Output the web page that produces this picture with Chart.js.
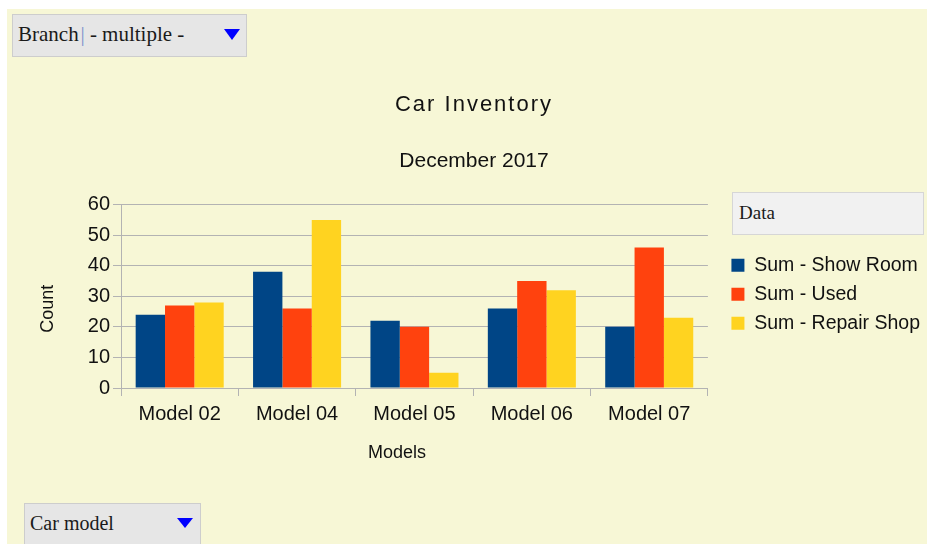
<!DOCTYPE html>
<html><head><meta charset="utf-8">
<script src="https://cdn.jsdelivr.net/npm/chart.js@4"></script>
<style>
html,body{margin:0;padding:0;background:#fff;width:927px;height:544px;overflow:hidden;}
#bg{position:absolute;left:7px;top:9px;right:0;bottom:0;background:#f7f7d6;}
#wrap{position:absolute;left:20px;top:0;width:907px;height:544px;}
.dd{position:absolute;background:#e6e6e6;border:1px solid #cdcdcd;font-family:"Liberation Serif",serif;font-size:20px;color:#1a1a1a;box-sizing:border-box;white-space:nowrap;}
.tri{position:absolute;width:0;height:0;border-left:8px solid transparent;border-right:8px solid transparent;border-top:11px solid #0000ff;}
</style></head>
<body>
<div id="bg"></div>
<div id="wrap"><canvas id="c"></canvas></div>
<div class="dd" style="left:12px;top:14px;width:235px;height:43px;font-size:21px;"><span style="position:absolute;left:5px;top:7px;">Branch&#8202;<span style="color:#7b92cc">|</span> - multiple -</span><div class="tri" style="left:211px;top:14px;"></div></div>
<div class="dd" style="left:732px;top:192px;width:192px;height:43px;background:#f1f1f1;border-color:#d6d6d6;font-size:19px;"><span style="position:absolute;left:6px;top:9px;">Data</span></div>
<div class="dd" style="left:24px;top:503px;width:177px;height:50px;"><span style="position:absolute;left:5px;top:8px;">Car model</span><div class="tri" style="left:152px;top:14px;border-top-width:10px;"></div></div>
<script>
const categories = ['Model 02', 'Model 04', 'Model 05', 'Model 06', 'Model 07'];
const seriesNames = ['Sum - Show Room', 'Sum - Used', 'Sum - Repair Shop'];
const showRoom = [24, 38, 22, 26, 20];
const used = [27, 26, 20, 35, 46];
const repairShop = [28, 55, 5, 32, 23];
const yTicks = [0, 10, 20, 30, 40, 50, 60];
const colors = ['#004586', '#ff420e', '#ffd320'];

Chart.defaults.font.family = '"Liberation Sans", Arial, sans-serif';
Chart.defaults.color = '#1a1a1a';

const gridColor = '#b3b3b3';
const legendFitExtra = 2;
const legendShiftX = 14;
const boxTweaks = {
  id: 'boxTweaks',
  afterInit(chart) {
    const tb = chart.titleBlock;
    if (tb) {
      const origDraw = tb.draw.bind(tb);
      tb.draw = function () {
        const ctx = chart.ctx;
        ctx.save();
        ctx.letterSpacing = '2px';
        origDraw();
        ctx.restore();
      };
    }
    const lg = chart.legend;
    if (lg) {
      const origFit = lg.fit.bind(lg);
      lg.fit = function () { origFit(); this.width += legendFitExtra; };
      const origLDraw = lg.draw.bind(lg);
      lg.draw = function () {
        const ctx = chart.ctx;
        ctx.save();
        ctx.translate(legendShiftX, -2);
        origLDraw();
        ctx.restore();
      };
    }
  }
};

const seriesValues = [showRoom, used, repairShop];
new Chart(document.getElementById('c'), {
  type: 'bar',
  data: {
    labels: categories,
    datasets: seriesValues.map((vals, i) => ({
      label: seriesNames[i],
      data: vals,
      backgroundColor: colors[i],
      borderColor: colors[i],
      borderWidth: 0,
      categoryPercentage: 0.75,
      barPercentage: 1.0
    }))
  },
  plugins: [boxTweaks],
  options: {
    responsive: true,
    maintainAspectRatio: false,
    animation: false,
    layout: { padding: { left: 10, right: 9, top: 0, bottom: 70 } },
    plugins: {
      tooltip: { enabled: false },
      title: {
        display: true,
        text: 'Car Inventory',
        color: '#111',
        font: { size: 22, weight: 'normal' },
        padding: { top: 92, bottom: 30 }
      },
      subtitle: {
        display: true,
        text: 'December 2017',
        color: '#111',
        font: { size: 21, weight: 'normal' },
        padding: { top: 0, bottom: 31 }
      },
      legend: {
        position: 'right',
        fullSize: false,
        labels: {
          boxWidth: 13,
          boxHeight: 13,
          padding: 9.5,
          color: '#111',
          font: { size: 19.5 }
        }
      }
    },
    scales: {
      x: {
        offset: true,
        grid: {
          offset: true,
          drawOnChartArea: true,
          drawTicks: true,
          tickLength: 8,
          color: (c) => (c.index === categories.length ? gridColor : 'rgba(0,0,0,0)'),
          tickColor: gridColor,
          lineWidth: 1
        },
        border: { display: true, color: gridColor, width: 1 },
        ticks: { font: { size: 20 }, color: '#111', padding: 6, maxRotation: 0 },
        title: { display: true, text: 'Models' + '\u00a0'.repeat(7), font: { size: 18 }, color: '#111', padding: { top: 0, bottom: 10 } },
        afterFit(s) { s.height = 86; }
      },
      y: {
        min: 0,
        max: 60,
        afterBuildTicks(s) { s.ticks = yTicks.map(v => ({ value: v })); },
        grid: { color: gridColor, lineWidth: 1, tickLength: 8, drawTicks: true },
        border: { display: true, color: gridColor, width: 1 },
        ticks: { font: { size: 20 }, color: '#111', padding: 3 },
        title: { display: true, text: 'Count' + '\u00a0'.repeat(5), font: { size: 18 }, color: '#111', padding: { top: 7, bottom: 0 } },
        afterFit(s) { s.width = 91; }
      }
    }
  }
});
</script>
</body></html>
